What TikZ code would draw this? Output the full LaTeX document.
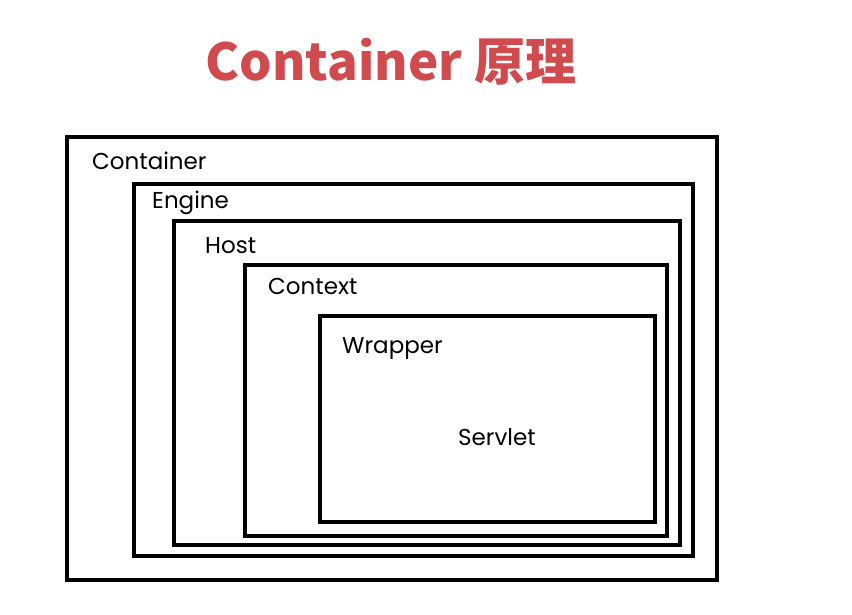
\documentclass[tikz,border=0pt]{standalone}
\usepackage{fontspec}
\setmainfont{Poppins}
\newfontfamily\cjk{Noto Sans CJK SC}
\definecolor{titlered}{HTML}{D14B4E}
\begin{document}
\begin{tikzpicture}[x=1pt,y=-1pt,
  frame/.style={draw=black,line width=3.6pt,line join=miter},
  lbl/.style={anchor=west,inner sep=0pt,font=\fontsize{23}{27}\selectfont}]
\useasboundingbox (0,0) rectangle (852,615);
\node[anchor=center,inner sep=0pt,text=titlered,font=\cjk\bfseries\fontsize{51}{59}\selectfont] (title) at (391,62) {Container 原理};
\draw[frame] (67,137) rectangle (717,580);
\draw[frame] (134,184) rectangle (693,556);
\draw[frame] (174,221) rectangle (680,545);
\draw[frame] (245,265) rectangle (667,536);
\draw[frame] (320,316) rectangle (655,522);
\node[lbl] (lcontainer) at (92,161) {Container};
\node[lbl] (lengine) at (152,203) {Engine};
\node[lbl] (lhost) at (205,246) {Host};
\node[lbl] (lcontext) at (268,286) {Context};
\node[lbl] (lwrapper) at (342,348) {Wrapper};
\node[lbl] (lservlet) at (458,437) {Servlet};
\end{tikzpicture}
\end{document}
